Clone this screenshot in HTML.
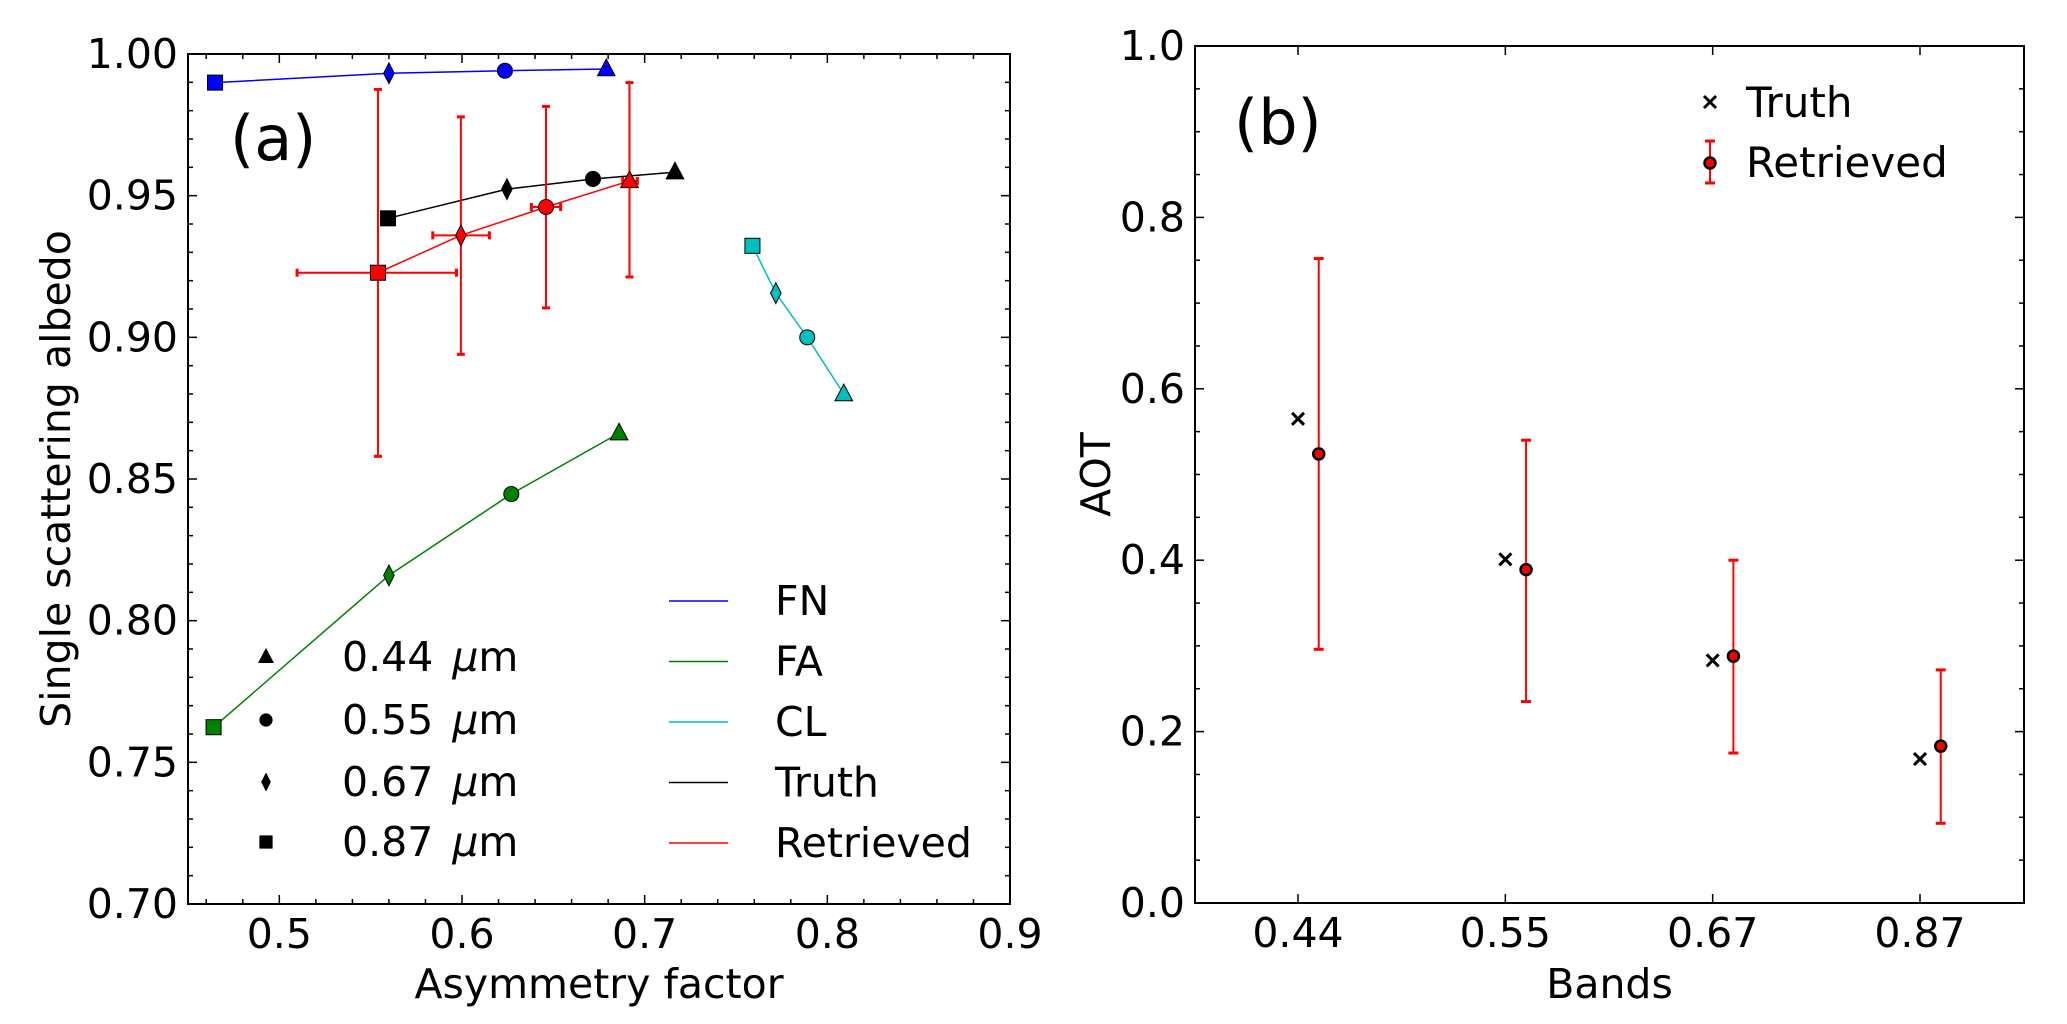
<!DOCTYPE html>
<html><head><meta charset="utf-8">
<style>
html,body{margin:0;padding:0;background:#fff;}
svg{display:block;font-family:"DejaVu Sans","Liberation Sans",sans-serif;}
</style></head>
<body>
<svg id="fig" width="2067" height="1024" viewBox="0 0 2067 1024" xmlns="http://www.w3.org/2000/svg">
<rect width="2067" height="1024" fill="#fff"/>
<g id="pa"></g>
<g id="pb"></g>
</svg>
<script>
// ---------- Panel (a) data ----------
const bandNames = ["0.44", "0.55", "0.67", "0.87"];
const fnG = [0.679, 0.6235, 0.560, 0.4648];
const fnW = [0.9947, 0.9941, 0.9932, 0.9899];
const faG = [0.686, 0.627, 0.560, 0.464];
const faW = [0.8662, 0.8447, 0.816, 0.7624];
const clG = [0.809, 0.789, 0.7718, 0.759];
const clW = [0.880, 0.900, 0.9156, 0.9323];
const truthG = [0.7166, 0.6717, 0.6246, 0.5595];
const truthW = [0.9583, 0.9559, 0.9523, 0.942];
const retG = [0.6917, 0.646, 0.5994, 0.554];
const retW = [0.9552, 0.946, 0.936, 0.9228];
const retGlo = [0.688, 0.638, 0.584, 0.5097];
const retGhi = [0.696, 0.654, 0.615, 0.597];
const retWlo = [0.9213, 0.9104, 0.894, 0.858];
const retWhi = [0.9899, 0.9815, 0.9778, 0.9875];
const xTicksA = [0.5, 0.6, 0.7, 0.8, 0.9];
const yTicksA = [0.70, 0.75, 0.80, 0.85, 0.90, 0.95, 1.00];
// ---------- Panel (b) data ----------
const bandLabels = ["0.44", "0.55", "0.67", "0.87"];
const aotTruth = [0.565, 0.401, 0.283, 0.168];
const aotRet = [0.524, 0.389, 0.288, 0.183];
const aotLo = [0.296, 0.235, 0.175, 0.093];
const aotHi = [0.752, 0.540, 0.400, 0.272];
const yTicksB = [0.0, 0.2, 0.4, 0.6, 0.8, 1.0];

const NS = "http://www.w3.org/2000/svg";
function mk(parent, tag, attrs, text) {
  const e = document.createElementNS(NS, tag);
  for (const k in attrs) e.setAttribute(k, attrs[k]);
  if (text !== undefined) e.textContent = text;
  parent.appendChild(e);
  return e;
}
const FS = 41;

// ===== Panel A =====
const A = {L:188, R:1010, T:54, B:904, x0:0.45, x1:0.9, y0:0.70, y1:1.00};
const ax = v => A.L + (v - A.x0) / (A.x1 - A.x0) * (A.R - A.L);
const ay = v => A.B - (v - A.y0) / (A.y1 - A.y0) * (A.B - A.T);
const pa = document.getElementById('pa');

function marker(parent, shape, cx, cy, fill, s) {
  let e;
  if (shape === 0) {
    e = mk(parent, 'polygon', {points:`${cx},${cy-s*0.62} ${cx+s*0.55},${cy+s*0.42} ${cx-s*0.55},${cy+s*0.42}`});
  } else if (shape === 1) {
    e = mk(parent, 'circle', {cx:cx, cy:cy, r:s*0.47});
  } else if (shape === 2) {
    e = mk(parent, 'polygon', {points:`${cx},${cy-s*0.65} ${cx+s*0.33},${cy} ${cx},${cy+s*0.65} ${cx-s*0.33},${cy}`});
  } else {
    e = mk(parent, 'rect', {x:cx-s*0.47, y:cy-s*0.47, width:s*0.94, height:s*0.94});
  }
  e.setAttribute('fill', fill);
  e.setAttribute('stroke', '#000');
  e.setAttribute('stroke-width', '1');
  return e;
}

const tickA = mk(pa, 'g', {stroke:'#000', 'stroke-width':1.5});


for (let v = 0.46; v < 0.9; v += 0.02) {
  const x = ax(v);
  const major = Math.abs(v*10 - Math.round(v*10)) < 1e-6;
  const len = major ? 9 : 5;
  mk(tickA, 'line', {x1:x, x2:x, y1:A.B, y2:A.B-len});
  mk(tickA, 'line', {x1:x, x2:x, y1:A.T, y2:A.T+len});
}
for (let i = 1; i < 30; i++) {
  const v = 0.70 + i*0.01;
  const y = ay(v);
  const len = (i % 5 === 0) ? 9 : 5;
  mk(tickA, 'line', {x1:A.L, x2:A.L+len, y1:y, y2:y});
  mk(tickA, 'line', {x1:A.R, x2:A.R-len, y1:y, y2:y});
}
xTicksA.forEach(v => {
  const t = mk(pa, 'text', {x:ax(v), y:A.B+44, 'font-size':FS, 'text-anchor':'middle'}, v.toFixed(1));
  
  
});
yTicksA.forEach(v => {
  const t = mk(pa, 'text', {x:A.L-10, y:ay(v)+14, 'font-size':FS, 'text-anchor':'end'}, v.toFixed(2));
  
  
});
const xlabA = mk(pa, 'text', {x:(A.L+A.R)/2, y:998, 'font-size':FS, 'text-anchor':'middle'}, 'Asymmetry factor');


const ylabA = mk(pa, 'text', {x:0, y:0, 'font-size':FS, 'text-anchor':'middle', transform:`translate(70,${(A.T+A.B)/2}) rotate(-90)`}, 'Single scattering albedo');


const pla = mk(pa, 'text', {x:230, y:160, 'font-size':62}, '(a)');



function series(name, G, W, color) {
  const g = mk(pa, 'g', {});
  
  
  const pts = G.map((v, i) => `${ax(v)},${ay(W[i])}`).join(' ');
  mk(g, 'polyline', {points:pts, fill:'none', stroke:color, 'stroke-width':1.5});
  return g;
}
function markers(g, G, W, fill) {
  G.forEach((v, i) => {
    const m = marker(g, i, ax(v), ay(W[i]), fill, 16);
    
    
  });
}
const gFN = series('series-fn', fnG, fnW, '#0000ff'); markers(gFN, fnG, fnW, '#0000ff');
const gFA = series('series-fa', faG, faW, '#008000'); markers(gFA, faG, faW, '#008000');
const gCL = series('series-cl', clG, clW, '#00bfbf'); markers(gCL, clG, clW, '#00bfbf');
const gTr = series('series-truth', truthG, truthW, '#000'); markers(gTr, truthG, truthW, '#000');
const gRe = series('series-retrieved', retG, retW, '#ff0000');
retG.forEach((v, i) => {
  const eb = mk(gRe, 'g', {stroke:'#ff0000', 'stroke-width':2});
  
  
  const x = ax(v), y = ay(retW[i]);
  mk(eb, 'line', {x1:x, x2:x, y1:ay(retWlo[i]), y2:ay(retWhi[i])});
  mk(eb, 'line', {x1:x-4, x2:x+4, y1:ay(retWlo[i]), y2:ay(retWlo[i]), 'stroke-width':3});
  mk(eb, 'line', {x1:x-4, x2:x+4, y1:ay(retWhi[i]), y2:ay(retWhi[i]), 'stroke-width':3});
  mk(eb, 'line', {x1:ax(retGlo[i]), x2:ax(retGhi[i]), y1:y, y2:y});
  mk(eb, 'line', {x1:ax(retGlo[i]), x2:ax(retGlo[i]), y1:y-4, y2:y+4, 'stroke-width':3});
  mk(eb, 'line', {x1:ax(retGhi[i]), x2:ax(retGhi[i]), y1:y-4, y2:y+4, 'stroke-width':3});
});
markers(gRe, retG, retW, '#ff0000');

const legM = mk(pa, 'g', {});


[657, 720, 782, 842].forEach((y, i) => {
  marker(legM, i, 266, y, '#000', 13);
  const t = mk(legM, 'text', {x:342, y:y+14, 'font-size':FS}, bandNames[i] + ' ');
  mk(t, 'tspan', {'font-style':'italic', dx:6}, 'μ');
  mk(t, 'tspan', {}, 'm');
});
const legL = mk(pa, 'g', {});


[['FN','#0000ff'],['FA','#008000'],['CL','#00bfbf'],['Truth','#000'],['Retrieved','#ff0000']].forEach((d, i) => {
  const y = 601 + i*60.5;
  mk(legL, 'line', {x1:669, x2:728, y1:y, y2:y, stroke:d[1], 'stroke-width':1.5});
  mk(legL, 'text', {x:775, y:y+14, 'font-size':FS}, d[0]);
});
const frameA = mk(pa, 'rect', {x:A.L, y:A.T, width:A.R-A.L, height:A.B-A.T, fill:'none', stroke:'#000', 'stroke-width':2});



// ===== Panel B =====
const B = {L:1195, R:2024, T:46, B:903};
const bx = i => 1298 + i * (1920 - 1298) / 3;
const by = v => B.B - v * (B.B - B.T);
const pb = document.getElementById('pb');
const tickB = mk(pb, 'g', {stroke:'#000', 'stroke-width':1.5});


bandLabels.forEach((b, i) => {
  mk(tickB, 'line', {x1:bx(i), x2:bx(i), y1:B.B, y2:B.B-9});
  mk(tickB, 'line', {x1:bx(i), x2:bx(i), y1:B.T, y2:B.T+9});
  const t = mk(pb, 'text', {x:bx(i), y:B.B+44, 'font-size':FS, 'text-anchor':'middle'}, b);
  
  
});
for (let i = 1; i < 20; i++) {
  const y = by(i*0.05), len = (i % 4 === 0) ? 9 : 5;
  mk(tickB, 'line', {x1:B.L, x2:B.L+len, y1:y, y2:y});
  mk(tickB, 'line', {x1:B.R, x2:B.R-len, y1:y, y2:y});
}
yTicksB.forEach(v => {
  const t = mk(pb, 'text', {x:B.L-10, y:by(v)+14, 'font-size':FS, 'text-anchor':'end'}, v.toFixed(1));
  
  
});
const xlabB = mk(pb, 'text', {x:(B.L+B.R)/2, y:998, 'font-size':FS, 'text-anchor':'middle'}, 'Bands');


const ylabB = mk(pb, 'text', {x:0, y:0, 'font-size':FS, 'text-anchor':'middle', transform:`translate(1110,${(B.T+B.B)/2}) rotate(-90)`}, 'AOT');


const plb = mk(pb, 'text', {x:1234, y:144, 'font-size':62}, '(b)');



function cross(parent, x, y) {
  const g = mk(parent, 'g', {stroke:'#000', 'stroke-width':3});
  mk(g, 'line', {x1:x-6, x2:x+6, y1:y-6, y2:y+6});
  mk(g, 'line', {x1:x-6, x2:x+6, y1:y+6, y2:y-6});
  return g;
}
function retMark(parent, x, y, lo, hi) {
  const g = mk(parent, 'g', {});
  mk(g, 'line', {x1:x, x2:x, y1:lo, y2:hi, stroke:'#ff0000', 'stroke-width':2});
  mk(g, 'line', {x1:x-5, x2:x+5, y1:lo, y2:lo, stroke:'#ff0000', 'stroke-width':3});
  mk(g, 'line', {x1:x-5, x2:x+5, y1:hi, y2:hi, stroke:'#ff0000', 'stroke-width':3});
  mk(g, 'circle', {cx:x, cy:y, r:5.5, fill:'#ff0000', stroke:'#000', 'stroke-width':2.5});
  return g;
}
aotTruth.forEach((v, i) => {
  const c = cross(pb, bx(i), by(v));
  
  
});
aotRet.forEach((v, i) => {
  const r = retMark(pb, bx(i + 0.1), by(v), by(aotLo[i]), by(aotHi[i]));
  
  
});
const legB = mk(pb, 'g', {});


cross(legB, 1710, 102);
mk(legB, 'text', {x:1746, y:117, 'font-size':42}, 'Truth');
retMark(legB, 1710, 163, 183, 141);
mk(legB, 'text', {x:1746, y:177, 'font-size':42}, 'Retrieved');
const frameB = mk(pb, 'rect', {x:B.L, y:B.T, width:B.R-B.L, height:B.B-B.T, fill:'none', stroke:'#000', 'stroke-width':2});


</script>
</body></html>
